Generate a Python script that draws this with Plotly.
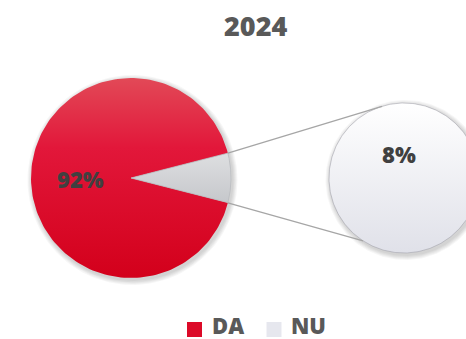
import numpy as np
import plotly.graph_objects as go

# Chart data
year = "2024"
categories = ["DA", "NU"]
shares = [92, 8]

# Styling
W, H = 466, 339
RED_SCALE = [[0, "#e24957"], [0.35, "#e2173a"], [1, "#d3001b"]]
GREY_SCALE = [[0, "#e0e1e3"], [1, "#c3c5c9"]]
PALE_SCALE = [[0, "#ffffff"], [1, "#e0e1e9"]]
TEXT_GREY = "#595959"
LABEL_GREY = "#404040"
FONT = "Open Sans"
WEIGHT = 800

main_c, main_r = (131, 178), 100
sub_c, sub_r = (404, 178), 75


def arc_polygon(c, r, a0, a1, wedge=True, n=180):
    """Polygon for a pie wedge from angle a0 to a1 (degrees, counter-clockwise)."""
    t = np.radians(np.linspace(a0, a1, n))
    xs = c[0] + r * np.cos(t)
    ys = c[1] - r * np.sin(t)
    if wedge:
        xs = np.concatenate([[c[0]], xs, [c[0]]])
        ys = np.concatenate([[c[1]], ys, [c[1]]])
    return xs, ys


fig = go.Figure()

# soft drop shadows under both discs
for c, r in [(main_c, main_r), (sub_c, sub_r)]:
    for k in range(1, 6):
        xs, ys = arc_polygon((c[0] + 1.5, c[1] + 2), r + k, 0, 360, wedge=False)
        fig.add_trace(go.Scatter(x=xs, y=ys, fill="toself", mode="lines",
                                 line=dict(width=0), fillcolor="rgba(0,0,0,0.035)",
                                 hoverinfo="skip", showlegend=False))

# main pie: small slice centred on the right-hand side
total = sum(shares)
small_span = shares[1] / total * 360
big_span = shares[0] / total * 360

xs, ys = arc_polygon(main_c, main_r, small_span / 2, small_span / 2 + big_span)
fig.add_trace(go.Scatter(x=xs, y=ys, fill="toself", mode="lines", line=dict(width=0),
                         fillgradient=dict(type="vertical", colorscale=RED_SCALE,
                                           start=main_c[1] - main_r, stop=main_c[1] + main_r),
                         hoverinfo="skip", showlegend=False))
xs, ys = arc_polygon(main_c, main_r, -small_span / 2, small_span / 2)
fig.add_trace(go.Scatter(x=xs, y=ys, fill="toself", mode="lines",
                         line=dict(width=0.8, color="#b9bbbf"),
                         fillgradient=dict(type="vertical", colorscale=GREY_SCALE,
                                           start=main_c[1] - main_r * 0.3, stop=main_c[1] + main_r * 0.3),
                         hoverinfo="skip", showlegend=False))

# secondary disc holding the small share
xs, ys = arc_polygon(sub_c, sub_r, 0, 360, wedge=False, n=360)
fig.add_trace(go.Scatter(x=xs, y=ys, fill="toself", mode="lines",
                         line=dict(width=0.8, color="rgba(150,150,160,0.6)"),
                         fillgradient=dict(type="vertical", colorscale=PALE_SCALE,
                                           start=sub_c[1] - sub_r, stop=sub_c[1] + sub_r),
                         hoverinfo="skip", showlegend=False))

# connector lines from the slice edges to the secondary disc
a_top, a_bot = np.radians(small_span / 2), np.radians(-small_span / 2)
p1 = (main_c[0] + main_r * np.cos(a_top), main_c[1] - main_r * np.sin(a_top))
p2 = (main_c[0] + main_r * np.cos(a_bot), main_c[1] - main_r * np.sin(a_bot))
q1a, q2a = np.radians(107), np.radians(237)
q1 = (sub_c[0] + sub_r * np.cos(q1a), sub_c[1] - sub_r * np.sin(q1a))
q2 = (sub_c[0] + sub_r * np.cos(q2a), sub_c[1] - sub_r * np.sin(q2a))
for a, b in [(p1, q1), (p2, q2)]:
    fig.add_trace(go.Scatter(x=[a[0], b[0]], y=[a[1], b[1]], mode="lines",
                             line=dict(color="#a6a6a6", width=1.3),
                             hoverinfo="skip", showlegend=False))

# value labels
fig.add_annotation(x=80, y=179, text=f"{shares[0]}%", showarrow=False,
                   font=dict(family=FONT, size=22, color=LABEL_GREY, weight=WEIGHT))
fig.add_annotation(x=399, y=154, text=f"{shares[1]}%", showarrow=False,
                   font=dict(family=FONT, size=22, color=LABEL_GREY, weight=WEIGHT))

# title
fig.add_annotation(x=255, y=25, text=year, showarrow=False,
                   font=dict(family=FONT, size=27, color=TEXT_GREY, weight=WEIGHT))

# legend
legend_y = 329.5
swatch_x = [194.5, 274]
swatch_colors = ["#dc0a28", "#e6e7ee"]
fig.add_trace(go.Scatter(x=swatch_x, y=[legend_y, legend_y], mode="markers",
                         marker=dict(symbol="square", size=15, color=swatch_colors,
                                     line=dict(width=0)),
                         hoverinfo="skip", showlegend=False))
for sx, name in zip(swatch_x, categories):
    fig.add_annotation(x=sx + 15, y=H, yanchor="bottom", yshift=-3, text=name,
                       showarrow=False, xanchor="left",
                       font=dict(family=FONT, size=22, color=TEXT_GREY, weight=WEIGHT))

fig.update_layout(
    width=W, height=H, margin=dict(l=0, r=0, t=0, b=0),
    paper_bgcolor="white", plot_bgcolor="white",
    xaxis=dict(range=[0, W], visible=False, fixedrange=True),
    yaxis=dict(range=[H, 0], visible=False, fixedrange=True),
)

fig.write_html("out.html")
